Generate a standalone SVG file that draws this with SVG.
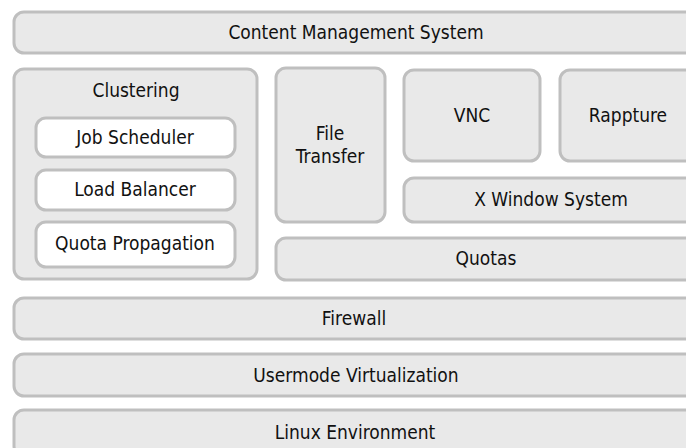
<svg xmlns="http://www.w3.org/2000/svg" width="686" height="448" viewBox="0 0 686 448">
<style>
.box{fill:#e9e9e9;stroke:#bfbfbf;stroke-width:3}
.inner{fill:#ffffff;stroke:#bfbfbf;stroke-width:3}
text{font-family:"DejaVu Sans Condensed","DejaVu Sans",sans-serif;font-size:19px;fill:#111;text-anchor:middle}
</style>
<rect width="686" height="448" fill="#ffffff"/>
<g id="cms"><rect class="box" x="14" y="12" width="690" height="41" rx="10"/><text x="356" y="39">Content Management System</text></g>
<g id="clustering"><rect class="box" x="14" y="69" width="243" height="210" rx="10"/><text x="136" y="97">Clustering</text></g>
<g id="job-scheduler"><rect class="inner" x="36" y="118" width="199" height="39" rx="10"/><text x="135" y="144">Job Scheduler</text></g>
<g id="load-balancer"><rect class="inner" x="36" y="170" width="199" height="40" rx="10"/><text x="135" y="196">Load Balancer</text></g>
<g id="quota-propagation"><rect class="inner" x="36" y="222" width="199" height="45" rx="10"/><text x="135" y="250">Quota Propagation</text></g>
<g id="file-transfer"><rect class="box" x="276" y="68" width="109" height="154" rx="10"/><text x="330" y="140">File</text><text x="330" y="163">Transfer</text></g>
<g id="vnc"><rect class="box" x="404" y="70" width="136" height="91" rx="10"/><text x="472" y="122">VNC</text></g>
<g id="rappture"><rect class="box" x="560" y="70" width="150" height="91" rx="10"/><text x="628" y="122">Rappture</text></g>
<g id="x-window"><rect class="box" x="404" y="178" width="300" height="44" rx="10"/><text x="551" y="206">X Window System</text></g>
<g id="quotas"><rect class="box" x="276" y="238" width="430" height="42" rx="10"/><text x="486" y="265">Quotas</text></g>
<g id="firewall"><rect class="box" x="14" y="298" width="690" height="41" rx="10"/><text x="354" y="325">Firewall</text></g>
<g id="usermode"><rect class="box" x="14" y="354" width="690" height="42" rx="10"/><text x="356" y="382">Usermode Virtualization</text></g>
<g id="linux"><rect class="box" x="14" y="410" width="690" height="46" rx="10"/><text x="355" y="439">Linux Environment</text></g>
<g id="connectors"></g>
</svg>
